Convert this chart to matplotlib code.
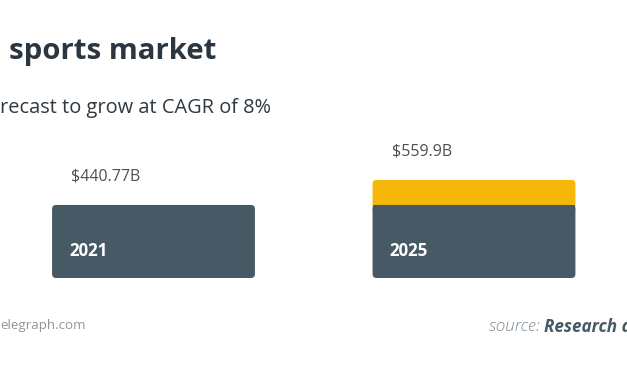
import matplotlib
matplotlib.use('Agg')
import matplotlib.pyplot as plt
from matplotlib.patches import FancyBboxPatch, Rectangle
from matplotlib.transforms import offset_copy

# data
years = ['2021', '2025']
base_values = [440.77, 440.77]
totals = [440.77, 559.9]
value_labels = ['$440.77B', '$559.9B']

title = 'sports market'
subtitle = 'recast to grow at CAGR of 8%'
footer_left = 'elegraph.com'

DARK = '#475964'
YELLOW = '#F5B70A'
TEXT = '#2B3640'

plt.rcParams['font.family'] = ['Open Sans', 'DejaVu Sans']

W, H = 627, 376
fig = plt.figure(figsize=(W / 100, H / 100), dpi=100)
fig.patch.set_facecolor('white')

def px(x, y):
    return x / W, 1 - y / H

# axes placement (pixels)
L, R, top_px, bot_px = 9.3, 618.2, 150, 278
ax = fig.add_axes([L / W, (H - bot_px) / H, (R - L) / W, (bot_px - top_px) / H])
ax.set_xlim(-0.45, 1.45)
ymin = 93
ax.set_ylim(ymin, ymin + (bot_px - top_px) / 0.21)
ax.axis('off')

bar_w = 0.633
radius_px = 4
# data units per pixel
xu = (1.45 + 0.45) / (R - L)
yu = (ax.get_ylim()[1] - ymin) / (bot_px - top_px)
rad = radius_px * xu
aspect = yu / xu

for i, (b, t) in enumerate(zip(base_values, totals)):
    x0 = i - bar_w / 2
    if t > b:
        y0 = b - 2 * rad * aspect
        ax.add_patch(FancyBboxPatch((x0 + rad, y0 + rad * aspect), bar_w - 2 * rad,
                                    t - y0 - 2 * rad * aspect,
                                    boxstyle=f'round,pad={rad},rounding_size={rad}',
                                    mutation_aspect=aspect, fc=YELLOW, ec='none'))
        ax.add_patch(Rectangle((x0, b - 2 * rad * aspect), bar_w, 2 * rad * aspect,
                               fc=DARK, ec='none', zorder=3))
    ax.add_patch(FancyBboxPatch((x0 + rad, ymin + rad * aspect), bar_w - 2 * rad,
                                b - ymin - 2 * rad * aspect,
                                boxstyle=f'round,pad={rad},rounding_size={rad}',
                                mutation_aspect=aspect, fc=DARK, ec='none', zorder=3))
    tv = offset_copy(ax.transData, fig=fig, x=19, y=28, units='dots')
    ax.text(x0, t, value_labels[i], transform=tv, ha='left', va='center',
            fontsize=11.5, color='#505050')
    ty = offset_copy(ax.transData, fig=fig, x=17, y=27, units='dots')
    ax.text(x0, ymin, years[i], transform=ty, ha='left', va='center',
            fontsize=12.2, color='white', fontweight='bold', zorder=4)

fig.text(*px(9, 51), title, fontsize=21.2, fontweight='bold', color=TEXT,
         ha='left', va='center')
fig.text(*px(0, 108), subtitle, fontsize=14.4, color='#2e3840', ha='left', va='center')
fig.text(*px(0, 326), footer_left, fontsize=9.6, color='#8f979c',
         ha='left', va='center')
t1 = fig.text(*px(489, 327), 'source: ', fontsize=12.3, color='#7d8a93',
              style='italic', fontweight='light', ha='left', va='center')
fig.canvas.draw()
bb = t1.get_window_extent()
fig.text(bb.x1 / W, 1 - 327 / H, 'Research and Markets', fontsize=12.3, color='#465A66',
         style='italic', fontweight='bold', ha='left', va='center')

fig.savefig('out.png', dpi=100)
